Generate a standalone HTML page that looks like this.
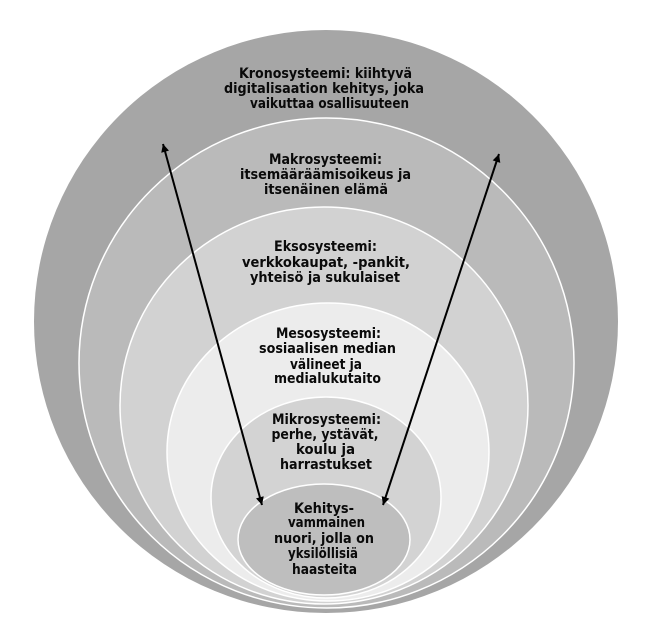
<!DOCTYPE html>
<html>
<head>
<meta charset="utf-8">
<style>
  html, body { margin: 0; padding: 0; background: #ffffff; }
  svg { display: block; }
  text { font-family: "DejaVu Sans", "Liberation Sans", sans-serif; font-weight: bold; font-size: 14px; fill: #0a0a0a; }
</style>
</head>
<body>
<svg width="651" height="628" viewBox="0 0 651 628" xmlns="http://www.w3.org/2000/svg">
  <defs>
    <marker id="ah" viewBox="0 0 10 10" refX="10" refY="5" markerWidth="10" markerHeight="8" markerUnits="userSpaceOnUse" orient="auto-start-reverse">
      <path d="M0,0 L10,5 L0,10 z" fill="#000"/>
    </marker>
  </defs>
  <rect width="651" height="628" fill="#ffffff"/>

  <ellipse cx="326" cy="321.5" rx="292" ry="291.5" fill="#a6a6a6"/>
  <ellipse cx="326.5" cy="363" rx="247.5" ry="245" fill="#bababa" stroke="#ffffff" stroke-width="1.5"/>
  <ellipse cx="324" cy="405.5" rx="204" ry="198.5" fill="#d2d2d2" stroke="#ffffff" stroke-width="1.5"/>
  <ellipse cx="328" cy="452" rx="161" ry="149" fill="#ececec" stroke="#ffffff" stroke-width="1.5"/>
  <ellipse cx="326" cy="497.5" rx="115" ry="100.5" fill="#d3d3d3" stroke="#ffffff" stroke-width="1.5"/>
  <ellipse cx="324" cy="539.5" rx="86" ry="55.5" fill="#bebebe" stroke="#ffffff" stroke-width="1.5"/>

  <g text-anchor="middle">
    <text x="325.5" y="78" textLength="173" lengthAdjust="spacingAndGlyphs">Kronosysteemi: kiihtyvä</text>
    <text x="324" y="93" textLength="200" lengthAdjust="spacingAndGlyphs">digitalisaation kehitys, joka</text>
    <text x="329.5" y="108" textLength="159" lengthAdjust="spacingAndGlyphs">vaikuttaa osallisuuteen</text>

    <text x="325.5" y="164" textLength="113" lengthAdjust="spacingAndGlyphs">Makrosysteemi:</text>
    <text x="325.5" y="179" textLength="171" lengthAdjust="spacingAndGlyphs">itsemääräämisoikeus ja</text>
    <text x="326" y="194" textLength="124" lengthAdjust="spacingAndGlyphs">itsenäinen elämä</text>

    <text x="325.5" y="251" textLength="103" lengthAdjust="spacingAndGlyphs">Eksosysteemi:</text>
    <text x="326" y="267" textLength="168" lengthAdjust="spacingAndGlyphs">verkkokaupat, -pankit,</text>
    <text x="325" y="282" textLength="150" lengthAdjust="spacingAndGlyphs">yhteisö ja sukulaiset</text>

    <text x="328.5" y="338" textLength="105" lengthAdjust="spacingAndGlyphs">Mesosysteemi:</text>
    <text x="327.5" y="353" textLength="137" lengthAdjust="spacingAndGlyphs">sosiaalisen median</text>
    <text x="326" y="369" textLength="72" lengthAdjust="spacingAndGlyphs">välineet ja</text>
    <text x="327.5" y="383" textLength="107" lengthAdjust="spacingAndGlyphs">medialukutaito</text>

    <text x="326.5" y="424" textLength="109" lengthAdjust="spacingAndGlyphs">Mikrosysteemi:</text>
    <text x="325" y="439" textLength="107" lengthAdjust="spacingAndGlyphs">perhe, ystävät,</text>
    <text x="325.5" y="454" textLength="59" lengthAdjust="spacingAndGlyphs">koulu ja</text>
    <text x="326" y="469" textLength="92" lengthAdjust="spacingAndGlyphs">harrastukset</text>

    <text x="324" y="513" textLength="60" lengthAdjust="spacingAndGlyphs">Kehitys-</text>
    <text x="326.5" y="527" textLength="77" lengthAdjust="spacingAndGlyphs">vammainen</text>
    <text x="324" y="543" textLength="100" lengthAdjust="spacingAndGlyphs">nuori, jolla on</text>
    <text x="323" y="558" textLength="70" lengthAdjust="spacingAndGlyphs">yksilöllisiä</text>
    <text x="324.5" y="574" textLength="65" lengthAdjust="spacingAndGlyphs">haasteita</text>
  </g>

  <line x1="163" y1="144" x2="262" y2="505" stroke="#000" stroke-width="2" marker-start="url(#ah)" marker-end="url(#ah)"/>
  <line x1="499" y1="154" x2="383" y2="505" stroke="#000" stroke-width="2" marker-start="url(#ah)" marker-end="url(#ah)"/>
</svg>
</body>
</html>
